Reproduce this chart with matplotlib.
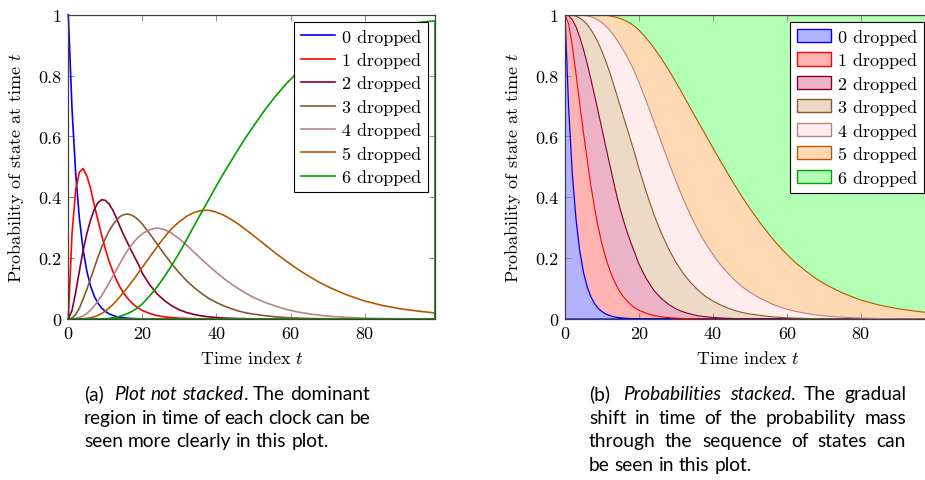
import numpy as np
import matplotlib
matplotlib.use('Agg')
import matplotlib.pyplot as plt
from matplotlib.patches import Patch
from matplotlib.ticker import FuncFormatter

# ---------------- data ----------------
T = [0, 1, 2, 3, 4, 5, 6, 7, 8, 9, 10, 11, 12, 13, 14, 15, 16, 17, 18, 19, 20,
     22, 24, 26, 28, 30, 32, 34, 36, 38, 40, 42, 44, 46, 48, 50,
     53, 56, 59, 62, 65, 68, 71, 75, 80, 85, 90, 95, 99]

P0 = [1.000, 0.691, 0.477, 0.330, 0.228, 0.157, 0.109, 0.075, 0.052, 0.036,
      0.025, 0.017, 0.012, 0.008, 0.0056, 0.0039, 0.0027, 0.0019, 0.0013, 0.0009,
      0.0006, 0.0003, 0.0001, 0, 0, 0, 0, 0, 0, 0, 0, 0, 0, 0, 0, 0,
      0, 0, 0, 0, 0, 0, 0, 0, 0, 0, 0, 0, 0]
P1 = [0, 0.28, 0.425, 0.483, 0.494, 0.47, 0.43, 0.375, 0.325, 0.275,
      0.23, 0.19, 0.157, 0.128, 0.104, 0.084, 0.068, 0.055, 0.044, 0.035,
      0.028, 0.018, 0.011, 0.007, 0.0045, 0.0028, 0.0018, 0.0011, 0.0007, 0.0004,
      0.0003, 0.0002, 0.0001, 0, 0, 0,
      0, 0, 0, 0, 0, 0, 0, 0, 0, 0, 0, 0, 0]
P2 = [0, 0.028, 0.088, 0.158, 0.225, 0.28, 0.325, 0.36, 0.382, 0.392,
      0.39, 0.378, 0.358, 0.332, 0.302, 0.275, 0.25, 0.225, 0.201, 0.178,
      0.150, 0.112, 0.082, 0.060, 0.043, 0.030, 0.021, 0.015, 0.010, 0.007,
      0.0048, 0.0033, 0.0022, 0.0015, 0.001, 0.0007,
      0.0004, 0.0002, 0.0001, 0, 0, 0, 0, 0, 0, 0, 0, 0, 0]
P3 = [0, 0.003, 0.015, 0.036, 0.065, 0.097, 0.132, 0.168, 0.203, 0.236,
      0.264, 0.289, 0.309, 0.325, 0.337, 0.343, 0.345, 0.342, 0.335, 0.325,
      0.312, 0.28, 0.246, 0.212, 0.18, 0.151, 0.125, 0.103, 0.084, 0.067,
      0.054, 0.043, 0.034, 0.026, 0.02, 0.016,
      0.011, 0.007, 0.0045, 0.003, 0.002, 0.0012, 0.0008, 0.0004, 0.0002, 0.0001,
      0, 0, 0]
P4 = [0, 0, 0.002, 0.005, 0.01, 0.018, 0.029, 0.043, 0.059, 0.077,
      0.097, 0.118, 0.14, 0.162, 0.184, 0.205, 0.225, 0.242, 0.257, 0.27,
      0.28, 0.294, 0.299, 0.294, 0.281, 0.263, 0.242, 0.219, 0.196, 0.174,
      0.153, 0.133, 0.115, 0.099, 0.084, 0.071,
      0.055, 0.042, 0.031, 0.023, 0.017, 0.012, 0.0085, 0.0055, 0.003, 0.0016,
      0.0009, 0.0005, 0.0003]
P5 = [0, 0, 0, 0, 0.001, 0.002, 0.004, 0.007, 0.012, 0.018,
      0.026, 0.036, 0.047, 0.06, 0.074, 0.089, 0.104, 0.12, 0.136, 0.153,
      0.17, 0.204, 0.238, 0.27, 0.298, 0.32, 0.338, 0.35, 0.357, 0.357,
      0.351, 0.341, 0.327, 0.311, 0.293, 0.274,
      0.245, 0.216, 0.189, 0.163, 0.14, 0.119, 0.101, 0.08, 0.059, 0.044, 0.033,
      0.025, 0.02]
P6 = [0, 0, 0, 0, 0, 0, 0, 0, 0, 0.0005,
      0.001, 0.002, 0.004, 0.006, 0.009, 0.013, 0.018, 0.024, 0.031, 0.04,
      0.05, 0.076, 0.106, 0.14, 0.178, 0.218, 0.262, 0.307, 0.351, 0.394,
      0.438, 0.48, 0.52, 0.56, 0.598, 0.634,
      0.686, 0.733, 0.775, 0.812, 0.843, 0.87, 0.892, 0.916, 0.938, 0.954, 0.966,
      0.975, 0.98]

series = [P0, P1, P2, P3, P4, P5, P6]
labels = ['0 dropped', '1 dropped', '2 dropped', '3 dropped', '4 dropped',
          '5 dropped', '6 dropped']
xticks = [0, 20, 40, 60, 80]
yticks = [0, 0.2, 0.4, 0.6, 0.8, 1]

line_colors = ['#0000ff', '#ff0000', '#86002d', '#86592d', '#b38686', '#b35900', '#00a000']
fill_colors = ['#b3b3ff', '#ffb3b3', '#ecb3c6', '#ecd9c6', '#ffecec', '#ffd9b3', '#b3ffb3']

plt.rcParams['font.family'] = 'serif'
plt.rcParams['font.serif'] = ['cmr10']
plt.rcParams['mathtext.fontset'] = 'cm'
plt.rcParams['axes.formatter.use_mathtext'] = True
plt.rcParams['axes.unicode_minus'] = False

W, H = 925, 481
fig = plt.figure(figsize=(W / 100, H / 100), dpi=100)


def axrect(x0, x1, ytop, ybot):
    return [x0 / W, 1 - ybot / H, (x1 - x0) / W, (ybot - ytop) / H]


ax1 = fig.add_axes(axrect(68.3, 435.0, 15.7, 320.0))
ax2 = fig.add_axes(axrect(565.0, 931.0, 15.7, 320.0))

FS = 13
fmt = FuncFormatter(lambda v, p: '%g' % v)

for ax in (ax1, ax2):
    ax.set_xlim(0, 99)
    ax.set_ylim(0, 1)
    ax.set_xticks(xticks)
    ax.set_yticks(yticks)
    ax.xaxis.set_major_formatter(fmt)
    ax.yaxis.set_major_formatter(fmt)
    ax.tick_params(direction='in', top=True, right=True, length=4, width=0.7,
                   color='#8c8c8c', labelsize=FS, pad=5)
    for s in ax.spines.values():
        s.set_color('#404040')
        s.set_linewidth(0.9)
    ax.set_xlabel('Time index $t$', fontsize=FS)
    ax.set_ylabel('Probability of state at time $t$', fontsize=FS)
    ax.xaxis.set_label_coords(0.5, -0.128)
    ax.xaxis.label.set_va('center')
    ax.yaxis.set_label_coords(-0.143, 0.5)
    ax.yaxis.label.set_va('center')

LEGKW = dict(loc='upper right', fontsize=FS, fancybox=False, edgecolor='black',
             framealpha=1, borderaxespad=0.40, handlelength=1.9,
             handletextpad=0.35, labelspacing=0.42, borderpad=0.38)

# ---------------- left: not stacked ----------------
Tc = T + [T[-1], T[0]]
handles = []
for vals, c, lab in zip(series, line_colors, labels):
    ax1.plot(Tc, list(vals) + [0, 0], color=c, lw=1.2, clip_on=False,
             solid_joinstyle='round')
    handles.append(plt.Line2D([], [], color=c, lw=1.2, label=lab))

leg1 = ax1.legend(handles=handles, **LEGKW)
leg1.get_frame().set_linewidth(0.8)

# ---------------- right: stacked ----------------
arr = np.array(series, dtype=float)
arr = arr / arr.sum(axis=0)
ax2.stackplot(T, arr, colors=fill_colors, lw=0)
cum = np.cumsum(arr, axis=0)
for k in range(7):
    yk = cum[k]
    if k == 0:
        ax2.plot(Tc, list(yk) + [0, 0], color=line_colors[k], lw=0.9)
    else:
        ax2.plot(T, yk, color=line_colors[k], lw=0.8)

phandles = [Patch(facecolor=f, edgecolor=c, lw=1.0, label=l)
            for f, c, l in zip(fill_colors, line_colors, labels)]
leg2 = ax2.legend(handles=phandles, handleheight=0.75, **LEGKW)
leg2.get_frame().set_linewidth(0.8)

# ---------------- captions (justified, like the LaTeX sub-captions) ----------------
renderer = fig.canvas.get_renderer()
CFS = 13.8
CF = 'Lato'


def text_w(s, style='normal'):
    t = fig.text(0, 0, s, fontsize=CFS, family=CF, fontstyle=style)
    w = t.get_window_extent(renderer=renderer).width
    t.remove()
    return w


SP = text_w('x x') - text_w('xx')


def parse(line):
    # words separated by spaces; '*' toggles italic
    words = []
    italic = False
    for raw in line.split(' '):
        pieces = []
        buf = ''
        for ch in raw:
            if ch == '*':
                if buf:
                    pieces.append((buf, 'italic' if italic else 'normal'))
                buf = ''
                italic = not italic
            else:
                buf += ch
        if buf:
            pieces.append((buf, 'italic' if italic else 'normal'))
        words.append(pieces)
    return words


def set_line(x0, x1, y, line, justify, label_extra=0.0):
    words = parse(line)
    widths = [sum(text_w(s, st) for s, st in w) for w in words]
    ngap = len(words) - 1
    extra = [label_extra if i == 0 else 0.0 for i in range(ngap)]
    if justify and ngap > 0:
        gap = (x1 - x0 - sum(widths) - sum(extra)) / ngap
    else:
        gap = SP
    x = x0
    for i, w in enumerate(words):
        for s, st in w:
            fig.text(x / W, 1 - y / H, s, fontsize=CFS, family=CF,
                     fontstyle=st, va='baseline', ha='left')
            x += text_w(s, st)
        if i < ngap:
            x += gap + extra[i]


def paragraph(x0, x1, y0, lines, pitch=23.6):
    for i, ln in enumerate(lines):
        set_line(x0, x1, y0 + i * pitch, ln, justify=(i < len(lines) - 1),
                 label_extra=(SP * 1.0 if i == 0 else 0.0))


paragraph(84, 370, 400, ['(a) *Plot not stacked*. The dominant',
                         'region in time of each clock can be',
                         'seen more clearly in this plot.'])
paragraph(589, 906, 400, ['(b) *Probabilities stacked*. The gradual',
                          'shift in time of the probability mass',
                          'through the sequence of states can',
                          'be seen in this plot.'])

fig.savefig('out.png', dpi=100)
